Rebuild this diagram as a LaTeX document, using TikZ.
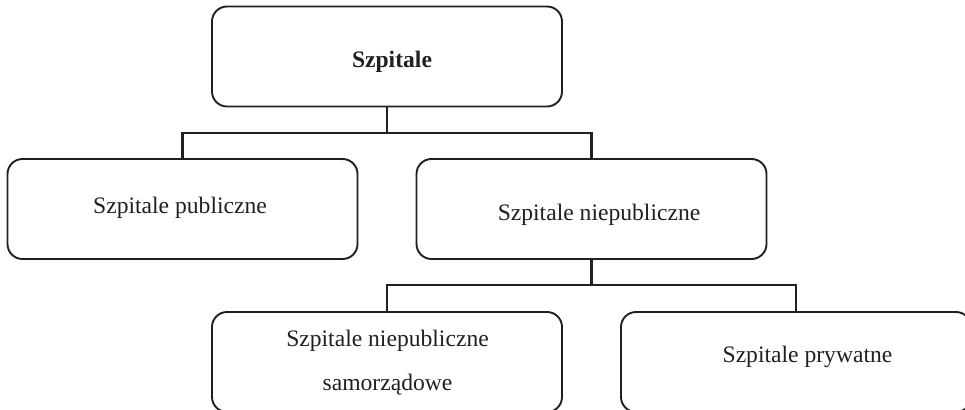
\documentclass[tikz,border=0pt]{standalone}
\usepackage{fontspec}
\setmainfont{Liberation Serif}
\definecolor{ink}{HTML}{231F20}
\begin{document}
\begin{tikzpicture}[x=1pt,y=-1pt,
  box/.style={draw=ink,line width=1.9pt,rounded corners=15pt,minimum width=350pt,minimum height=100pt,inner sep=0pt,outer sep=0pt},
  txt/.style={text=ink,font=\fontsize{23.6}{44}\selectfont,inner sep=0pt},
  conn/.style={draw=ink,line width=2.6pt}]
\useasboundingbox (0,0) rectangle (965,409);
\node[box] (top)  at (387,56.5) {};
\node[box] (pub)  at (182.5,209) {};
\node[box] (niep) at (591.5,209) {};
\node[box] (samo) at (387,362) {};
\node[box] (pryw) at (796,362) {};
\node[txt,anchor=base] (ttop) at (392,68) {\textbf{Szpitale}};
\node[txt,anchor=base] (tpub) at (180,213) {Szpitale publiczne};
\node[txt,anchor=base] (tniep) at (599,220) {Szpitale niepubliczne};
\node[txt,align=center] (tsamo) at (387.5,362.5) {Szpitale niepubliczne\\samorządowe};
\node[txt,anchor=base] (tpryw) at (807.5,362) {Szpitale prywatne};
\coordinate (j1) at (387,133);
\coordinate (j2) at (591.5,285);
\draw[conn] (top.south) -- (j1);
\draw[conn] (pub.north) |- (j1) -| (niep.north);
\draw[conn] (niep.south) -- (j2);
\draw[conn] (samo.north) |- (j2) -| (pryw.north);
\end{tikzpicture}
\end{document}
